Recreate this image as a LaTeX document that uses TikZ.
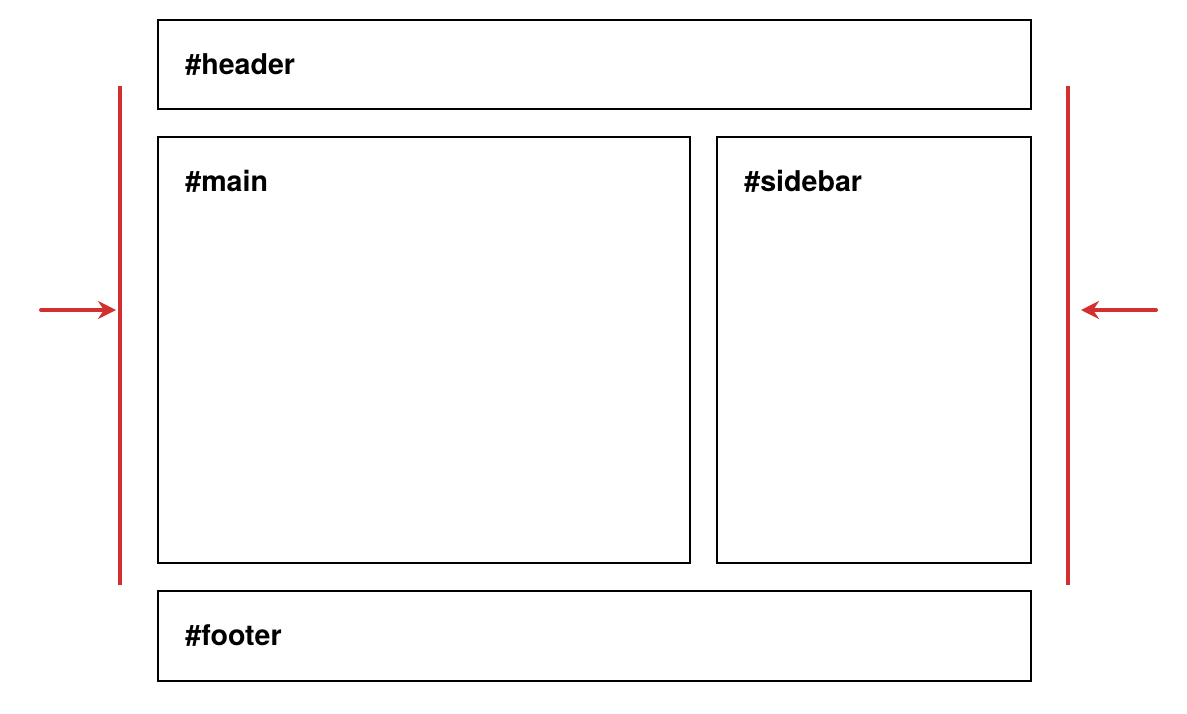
\documentclass[tikz,border=0pt]{standalone}
\usepackage{fontspec}
\setmainfont{TeX Gyre Heros}
\usetikzlibrary{arrows.meta}
\definecolor{redline}{HTML}{D32F2F}
\begin{document}
\begin{tikzpicture}[x=0.5pt,y=-0.5pt,
  region/.style={draw=black,line width=1pt},
  lbl/.style={anchor=base west,inner sep=0pt,font=\fontsize{14.3}{17}\selectfont\bfseries},
  bar/.style={draw=redline,line width=2pt},
  push/.style={draw=redline,line width=2pt,line cap=round,-{Stealth[length=9pt,width=9pt]}}]
\useasboundingbox (0,0) rectangle (1187,713);
\draw[region] (158,20) rectangle (1031,109);
\draw[region] (158,137) rectangle (690,563);
\draw[region] (717,137) rectangle (1031,563);
\draw[region] (158,591) rectangle (1031,681);
\node[lbl] (h) at (185,74) {\#header};
\node[lbl] (m) at (185,191) {\#main};
\node[lbl] (s) at (744,191) {\#sidebar};
\node[lbl] (f) at (185,645) {\#footer};
\coordinate (lt) at (120,86);
\coordinate (lb) at (120,585);
\coordinate (rt) at (1068,86);
\coordinate (rb) at (1068,585);
\draw[bar] (lt) -- (lb);
\draw[bar] (rt) -- (rb);
\coordinate (la) at (41,310);
\coordinate (lae) at (116,310);
\coordinate (ra) at (1156,310);
\coordinate (rae) at (1081,310);
\draw[push] (la) -- (lae);
\draw[push] (ra) -- (rae);
\end{tikzpicture}
\end{document}
